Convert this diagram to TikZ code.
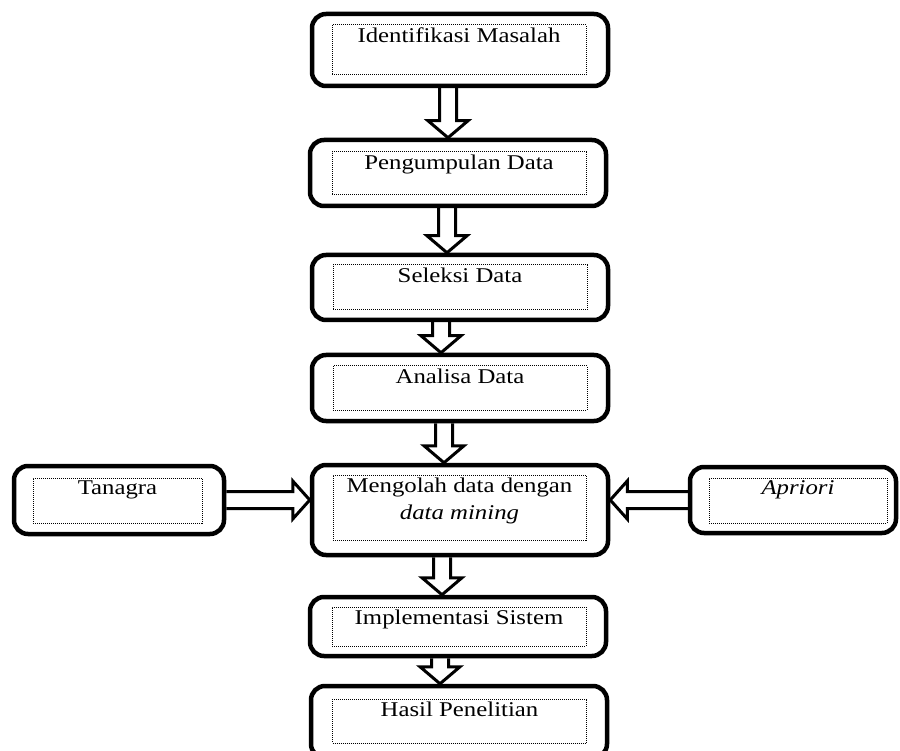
\documentclass[tikz,border=0pt]{standalone}
\usepackage{fontspec}
\setmainfont{Liberation Serif}[FakeStretch=1.18]
\usetikzlibrary{calc,positioning}
\tikzset{
  stepbox/.style = { draw, line width=4.5pt, rounded corners=14pt, minimum width=296pt, inner sep=0pt },
  txtbox/.style  = { draw, densely dotted, line width=1pt, minimum width=254pt, inner sep=0pt },
  steptxt/.style = { anchor=north, inner sep=0pt, yshift=-3pt, align=center,
    font=\fontsize{21}{27}\selectfont },
  fatarr/.style  = { line width=3pt, miter limit=20 }
}
% hollow block arrows between boxes
\newcommand{\fatdown}[3]{%
  \draw[fatarr] let \p1=(#2.south), \p2=(#3.north) in
    (#1pt-8.5pt,\y1) -- (#1pt-8.5pt,\y2+17pt) -- (#1pt-20pt,\y2+17pt) -- (#1pt,\y2)
    -- (#1pt+20pt,\y2+17pt) -- (#1pt+8.5pt,\y2+17pt) -- (#1pt+8.5pt,\y1);}
\newcommand{\fatright}[3]{%
  \draw[fatarr] let \p1=(#2.east), \p2=(#3.west) in
    (\x1,-#1pt+8.5pt) -- (\x2-17pt,-#1pt+8.5pt) -- (\x2-17pt,-#1pt+19pt) -- (\x2,-#1pt)
    -- (\x2-17pt,-#1pt-19pt) -- (\x2-17pt,-#1pt-8.5pt) -- (\x1,-#1pt-8.5pt);}
\newcommand{\fatleft}[3]{%
  \draw[fatarr] let \p1=(#2.west), \p2=(#3.east) in
    (\x1,-#1pt+8.5pt) -- (\x2+17pt,-#1pt+8.5pt) -- (\x2+17pt,-#1pt+19pt) -- (\x2,-#1pt)
    -- (\x2+17pt,-#1pt-19pt) -- (\x2+17pt,-#1pt-8.5pt) -- (\x1,-#1pt-8.5pt);}

\begin{document}
\begin{tikzpicture}[x=1pt,y=-1pt]
  \useasboundingbox (0,0) rectangle (900,751);
  % main column
  \node[stepbox, minimum height=72pt] (b1) at (460,50) {};
  \node[txtbox, minimum height=50pt] (t1) at (459,50) {};
  \node[steptxt] at (t1.north) {Identifikasi Masalah};
  \node[stepbox, minimum height=66pt] (b2) at (458,173) {};
  \node[txtbox, minimum height=43pt] (t2) at (459,173.5) {};
  \node[steptxt] at (t2.north) {Pengumpulan Data};
  \node[stepbox, minimum height=65pt] (b3) at (460,287.5) {};
  \node[txtbox, minimum height=45pt] (t3) at (460,287.5) {};
  \node[steptxt] at (t3.north) {Seleksi Data};
  \node[stepbox, minimum height=66pt] (b4) at (460,388) {};
  \node[txtbox, minimum height=44pt] (t4) at (460,388) {};
  \node[steptxt] at (t4.north) {Analisa Data};
  \node[stepbox, minimum height=90pt] (b5) at (460,510) {};
  \node[txtbox, minimum width=253pt, minimum height=65pt] (t5) at (459.5,507.5) {};
  \node[steptxt] at (t5.north) {Mengolah data dengan\\\textit{data mining}};
  \node[stepbox, minimum height=59pt] (b6) at (458,626.5) {};
  \node[txtbox, minimum height=39pt] (t6) at (459,626.5) {};
  \node[steptxt] at (t6.north) {Implementasi Sistem};
  \node[stepbox, minimum height=72pt] (b7) at (459,722) {};
  \node[txtbox, minimum height=44pt] (t7) at (459.5,721) {};
  \node[steptxt] at (t7.north) {Hasil Penelitian};
  % side boxes
  \node[stepbox, minimum width=210pt, minimum height=68pt] (tan) at (119,500) {};
  \node[txtbox, minimum width=169pt, minimum height=45pt] (ttan) at (117.5,500.5) {};
  \node[steptxt] at (ttan.north) {Tanagra};
  \node[stepbox, minimum width=206pt, minimum height=66pt] (apr) at (793,500) {};
  \node[txtbox, minimum width=178pt, minimum height=45pt] (tapr) at (798,500.5) {};
  \node[steptxt] at (tapr.north) {\textit{Apriori}};
  % arrows
  \fatdown{448}{b1}{b2}
  \fatdown{447}{b2}{b3}
  \fatdown{441}{b3}{b4}
  \fatdown{444}{b4}{b5}
  \fatdown{442}{b5}{b6}
  \fatdown{440}{b6}{b7}
  \fatright{500}{tan}{b5}
  \fatleft{500}{apr}{b5}
\end{tikzpicture}
\end{document}
